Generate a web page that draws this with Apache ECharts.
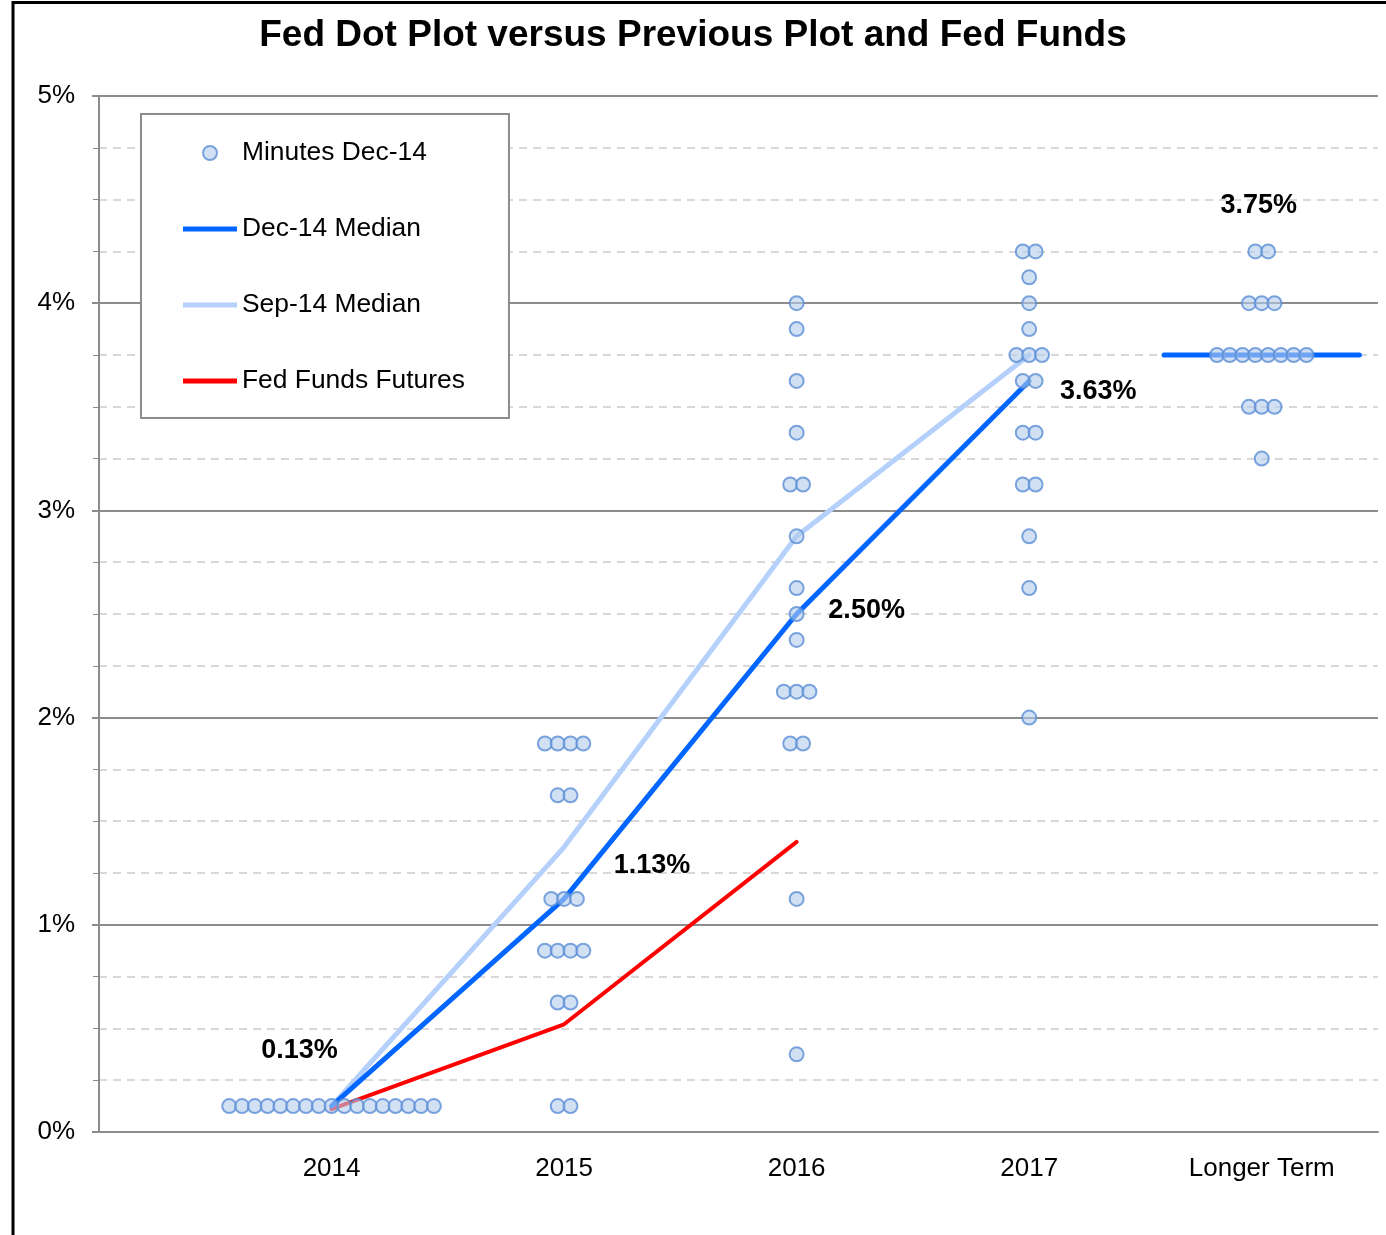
<!DOCTYPE html>
<html>
<head>
<meta charset="utf-8">
<title>Fed Dot Plot</title>
<script src="https://cdn.jsdelivr.net/npm/echarts@6/dist/echarts.min.js"></script>
<style>
  html, body { margin: 0; padding: 0; background: #fff; }
  #chart { width: 1386px; height: 1235px; }
</style>
</head>
<body>
<div id="chart"></div>
<script>
// categories sit at x = 1..5 on a value axis
const categories = ['2014', '2015', '2016', '2017', 'Longer Term']

// FOMC participants' dots, Dec-14 minutes
const dots2014 = [0.125, 0.125, 0.125, 0.125, 0.125, 0.125, 0.125, 0.125, 0.125, 0.125, 0.125, 0.125, 0.125, 0.125, 0.125, 0.125, 0.125]
const dots2015 = [1.875, 1.875, 1.875, 1.875, 1.625, 1.625, 1.125, 1.125, 1.125, 0.875, 0.875, 0.875, 0.875, 0.625, 0.625, 0.125, 0.125]
const dots2016 = [4.0, 3.875, 3.625, 3.375, 3.125, 3.125, 2.875, 2.625, 2.5, 2.375, 2.125, 2.125, 2.125, 1.875, 1.875, 1.125, 0.375]
const dots2017 = [4.25, 4.25, 4.125, 4.0, 3.875, 3.75, 3.75, 3.75, 3.625, 3.625, 3.375, 3.375, 3.125, 3.125, 2.875, 2.625, 2.0]
const dotsLonger = [4.25, 4.25, 4.0, 4.0, 4.0, 3.75, 3.75, 3.75, 3.75, 3.75, 3.75, 3.75, 3.75, 3.5, 3.5, 3.5, 3.25]

// medians and futures, one value per category (2014..2017)
const dec14Median = [0.125, 1.125, 2.5, 3.625]
const dec14LongerTerm = 3.75
const longerTermSpan = [4.58, 5.42]
const sep14Median = [0.125, 1.375, 2.875, 3.75]
const fedFundsFutures = [0.11, 0.52, 1.40]

const font = 'Arial, "Liberation Sans", sans-serif'
const dotStep = 0.055 // horizontal spread of equal dots
const barIcon = 'path://M0,0L54,0L54,5L0,5Z'

// spread dots with the same value side by side around the category
const dotData = []
;[dots2014, dots2015, dots2016, dots2017, dotsLonger].forEach((vals, ci) => {
  const counts = {}
  vals.forEach(v => { counts[v] = (counts[v] || 0) + 1 })
  Object.keys(counts).forEach(k => {
    const n = counts[k]
    for (let i = 0; i < n; i++) {
      dotData.push([ci + 1 + (i - (n - 1) / 2) * dotStep, +k])
    }
  })
})

const pct = p => p.value[1].toFixed(2) + '%'
const labelStyle = { show: true, position: 'inside', formatter: pct, fontSize: 27, fontWeight: 'bold', color: '#000', fontFamily: font }
const medianLabelOffsets = [[-32, -56], [88, -33], [70, -3], [69, 11]]

const chart = echarts.init(document.getElementById('chart'))
chart.setOption({
  animation: false,
  title: {
    text: 'Fed Dot Plot versus Previous Plot and Fed Funds',
    left: 'center',
    top: 17,
    padding: 0,
    textStyle: { fontSize: 37, fontWeight: 'bold', color: '#000', fontFamily: font }
  },
  graphic: [{
    type: 'rect',
    silent: true,
    shape: { x: 13, y: 2.5, width: 1500, height: 1500 },
    style: { fill: 'none', stroke: '#000', lineWidth: 3 }
  }],
  grid: { left: 99, right: 8, top: 96, bottom: 103 },
  legend: {
    orient: 'vertical',
    left: 141,
    top: 114,
    data: [
      { name: 'Minutes Dec-14' },
      { name: 'Dec-14 Median', icon: barIcon },
      { name: 'Sep-14 Median', icon: barIcon },
      { name: 'Fed Funds Futures', icon: barIcon }
    ],
    itemWidth: 54,
    itemHeight: 14,
    itemGap: 50,
    padding: [26, 44, 24, 42],
    backgroundColor: '#fff',
    borderColor: '#8c8c8c',
    borderWidth: 2,
    textStyle: { fontSize: 26.4, color: '#000', fontFamily: font }
  },
  xAxis: {
    type: 'value',
    min: 0,
    max: 5.5,
    interval: 1,
    axisLine: { lineStyle: { color: '#8c8c8c', width: 2 } },
    axisTick: { show: false },
    splitLine: { show: false },
    axisLabel: {
      margin: 24,
      fontSize: 26,
      color: '#000',
      fontFamily: font,
      formatter: v => categories[v - 1] || ''
    }
  },
  yAxis: {
    type: 'value',
    min: 0,
    max: 5,
    interval: 1,
    axisLine: { show: true, lineStyle: { color: '#8c8c8c', width: 2 } },
    axisTick: { show: true, length: 7, lineStyle: { color: '#8c8c8c', width: 2 } },
    minorTick: { show: true, splitNumber: 4, length: 6, lineStyle: { color: '#8c8c8c', width: 1 } },
    splitLine: { lineStyle: { color: '#8c8c8c', width: 2 } },
    minorSplitLine: { show: true, lineStyle: { color: '#d9d9d9', width: 2, type: [8, 6] } },
    axisLabel: { margin: 24, fontSize: 26, color: '#000', fontFamily: font, formatter: '{value}%', verticalAlign: 'middle', lineHeight: 32, padding: [6, 0, 0, 0] }
  },
  series: [
    {
      name: 'Sep-14 Median',
      type: 'line',
      z: 2,
      symbol: 'none',
      color: '#b4d0fb',
      lineStyle: { color: '#b4d0fb', width: 5, cap: 'round' },
      data: sep14Median.map((v, i) => [i + 1, v])
    },
    {
      name: 'Fed Funds Futures',
      type: 'line',
      z: 2,
      symbol: 'none',
      color: '#ff0000',
      lineStyle: { color: '#ff0000', width: 4, cap: 'round' },
      data: fedFundsFutures.map((v, i) => [i + 1, v])
    },
    {
      name: 'Dec-14 Median',
      type: 'line',
      z: 3,
      symbol: 'circle',
      symbolSize: 1,
      showSymbol: true,
      color: '#0066ff',
      lineStyle: { color: '#0066ff', width: 5, cap: 'round' },
      data: dec14Median.map((v, i) => ({
        value: [i + 1, v],
        label: Object.assign({}, labelStyle, { offset: medianLabelOffsets[i] })
      }))
    },
    {
      name: 'Dec-14 Median',
      type: 'line',
      z: 3,
      symbol: 'circle',
      symbolSize: 1,
      showSymbol: true,
      color: '#0066ff',
      lineStyle: { color: '#0066ff', width: 5, cap: 'round' },
      data: [
        [longerTermSpan[0], dec14LongerTerm],
        { value: [5, dec14LongerTerm], label: Object.assign({}, labelStyle, { offset: [-3, -149] }) },
        [longerTermSpan[1], dec14LongerTerm]
      ]
    },
    {
      name: 'Minutes Dec-14',
      type: 'scatter',
      z: 4,
      symbol: 'circle',
      symbolSize: 14,
      itemStyle: { color: 'rgba(180,204,236,0.75)', borderColor: '#5b8ed6', borderWidth: 2 },
      data: dotData
    }
  ]
})
</script>
</body>
</html>
